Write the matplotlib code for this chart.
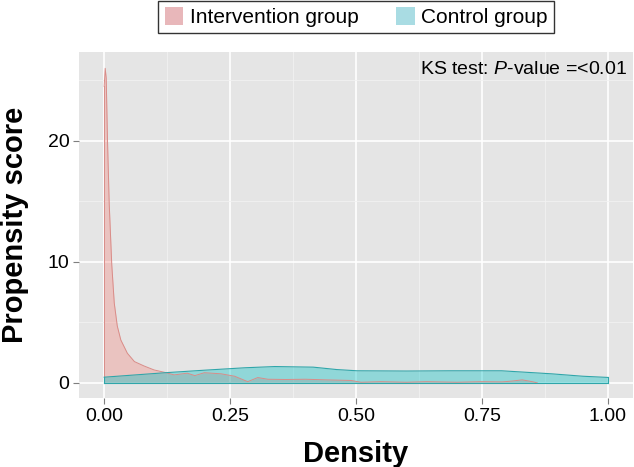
import matplotlib
matplotlib.use("Agg")
import matplotlib.pyplot as plt
from matplotlib.patches import Patch
import numpy as np

# Curvas de densidad del propensity score

# grupo intervencion
x_intervencion = [0.0, 0.002, 0.004, 0.0066, 0.01, 0.015, 0.02, 0.026, 0.033, 0.046,
                  0.060, 0.079, 0.099, 0.119, 0.139, 0.165, 0.18, 0.199, 0.232, 0.259,
                  0.285, 0.305, 0.325, 0.36, 0.40, 0.44, 0.49, 0.51, 0.55, 0.60,
                  0.64, 0.70, 0.75, 0.79, 0.81, 0.83, 0.85, 0.86]
y_intervencion = [24.5, 26.0, 25.2, 20.0, 14.8, 9.8, 6.6, 4.7, 3.55, 2.45,
                  1.76, 1.4, 1.07, 0.88, 0.66, 0.8, 0.6, 0.84, 0.75, 0.55,
                  0.1, 0.44, 0.3, 0.28, 0.3, 0.25, 0.2, 0.05, 0.1, 0.05,
                  0.1, 0.05, 0.1, 0.08, 0.15, 0.25, 0.1, 0.0]

# grupo control
x_control = [0.0, 0.125, 0.2, 0.28, 0.339, 0.415, 0.462, 0.502, 0.6, 0.689,
             0.789, 0.888, 0.95, 1.0]
y_control = [0.47, 0.85, 1.05, 1.25, 1.35, 1.3, 1.1, 1.0, 0.98, 1.0,
             1.0, 0.75, 0.55, 0.45]

etiquetas_grupos = ["Intervention group", "Control group"]
xticks = [0.0, 0.25, 0.5, 0.75, 1.0]
xtick_labels = ["0.00", "0.25", "0.50", "0.75", "1.00"]
yticks = [0, 10, 20]


def main():

    plt.rcParams['font.family'] = ['Liberation Sans', 'DejaVu Sans']
    plt.rcParams['mathtext.fontset'] = 'custom'
    plt.rcParams['mathtext.it'] = 'Liberation Sans:italic'
    plt.rcParams['mathtext.rm'] = 'Liberation Sans'

    fig = plt.figure(figsize=(6.34, 4.67), dpi=100)
    ax = fig.add_axes([79/634, 1 - 398/467, (633 - 79)/634, (398 - 52)/467])
    ax.set_facecolor('#E5E5E5')

    # rejilla estilo ggplot
    ax.set_xticks([0.125, 0.375, 0.625, 0.875], minor=True)
    ax.set_yticks([5, 15, 25], minor=True)
    ax.grid(which='major', color='white', linewidth=1.2)
    ax.grid(which='minor', color='#F2F2F2', linewidth=0.6)
    ax.set_axisbelow(True)
    for s in ax.spines.values():
        s.set_visible(False)

    # densidades (intervencion primero, control encima)
    ax.fill_between(x_intervencion, 0, y_intervencion, color='#F8766D', alpha=0.3, linewidth=0)
    ax.plot(x_intervencion, y_intervencion, color='#D98C88', linewidth=0.7)
    ax.plot([0, 0], [0, y_intervencion[0]], color='#D98C88', linewidth=0.7)

    ax.fill_between(x_control, 0, y_control, color='#00BFC4', alpha=0.37, linewidth=0)
    ax.plot(x_control, y_control, color='#2FA6AA', linewidth=0.8)
    ax.plot([0, 1], [0, 0], color='#2FA6AA', linewidth=0.8)
    ax.plot([0, 0], [0, y_control[0]], color='#2FA6AA', linewidth=0.8)
    ax.plot([1, 1], [0, y_control[-1]], color='#2FA6AA', linewidth=0.8)

    ax.set_xlim(-0.05, 1.05)
    ax.set_ylim(-1.25, 27.35)
    ax.set_xticks(xticks)
    ax.set_xticklabels(xtick_labels)
    ax.set_yticks(yticks)
    ax.tick_params(which='major', length=4, color='#7F7F7F', labelsize=14, labelcolor='black', pad=3)
    ax.tick_params(which='minor', length=0)

    ax.set_xlabel("Density", fontsize=21, fontweight='bold', labelpad=11)
    ax.set_ylabel("Propensity score", fontsize=21, fontweight='bold', labelpad=13)

    ax.text(1.038, 25.9, "KS test: $\\mathit{P}$-value =<0.01", ha='right', va='center', fontsize=14)

    handles = [Patch(facecolor='#E8B7BA', edgecolor='none'),
               Patch(facecolor='#A9DCE3', edgecolor='none')]
    leg = fig.legend(handles, etiquetas_grupos, loc='upper center', bbox_to_anchor=(356/634, 1 - 1/467),
                     ncol=2, fontsize=15, frameon=True, fancybox=False, borderpad=0.3,
                     handlelength=0.9, handleheight=0.9, handletextpad=0.3, columnspacing=1.8,
                     borderaxespad=0)
    leg.get_frame().set_edgecolor('black')
    leg.get_frame().set_linewidth(1.0)

    plt.savefig("out.png", dpi=100)


if __name__ == "__main__":
    main()
